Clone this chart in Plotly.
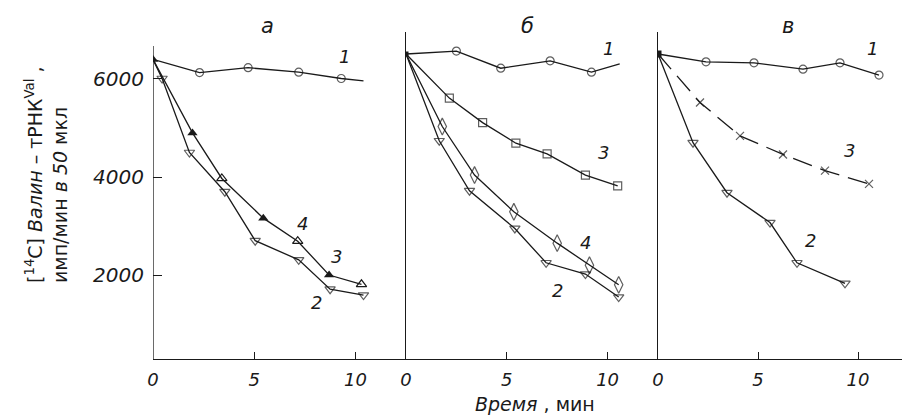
import plotly.graph_objects as go

# ---------------- data (time, min ; counts per min in 50 ul) ----------------
# panel а
t1a = [0, 2.3, 4.7, 7.2, 9.3, 10.4]
v1a = [6400, 6130, 6230, 6140, 6010, 5960]
t2a = [0, 0.45, 1.8, 3.55, 5.05, 7.2, 8.75, 10.4]
v2a = [6400, 6010, 4500, 3700, 2700, 2310, 1710, 1590]
t3a = [0, 1.95, 5.45, 8.7]
v3a = [6400, 4900, 3160, 2000]
t4a = [0, 3.4, 7.15, 10.3]
v4a = [6400, 3970, 2690, 1810]
# panel б
t1b = [0, 2.5, 4.7, 7.15, 9.2, 10.6]
v1b = [6510, 6570, 6220, 6370, 6140, 6310]
t2b = [0, 1.65, 3.15, 5.4, 6.95, 8.9, 10.55]
v2b = [6510, 4740, 3720, 2950, 2250, 2020, 1550]
t3b = [0, 2.15, 3.8, 5.45, 7.0, 8.9, 10.5]
v3b = [6510, 5610, 5110, 4690, 4470, 4040, 3820]
t4b = [0, 1.8, 3.4, 5.35, 7.5, 9.1, 10.55]
v4b = [6510, 5030, 4040, 3290, 2650, 2200, 1800]
# panel в
t1c = [0, 2.4, 4.8, 7.25, 9.1, 11.05]
v1c = [6510, 6350, 6330, 6200, 6330, 6080]
t2c = [0, 1.75, 3.45, 5.6, 6.95, 9.35]
v2c = [6510, 4700, 3680, 3070, 2250, 1830]
t3c = [0, 2.1, 4.1, 6.25, 8.35, 10.55]
v3c = [6510, 5520, 4840, 4460, 4130, 3860]

panel_titles = ["а", "б", "в"]
x_ticks = [0, 5, 10]
y_ticks = [2000, 4000, 6000]
x_range = [0, 12.5]
y_range = [286, 6959]

# ---------------- figure ----------------
# the page body has an 8px margin, so the figure is made 8px smaller
OFF = 8
W, H = 910 - OFF, 419 - OFF
ML, MR, MT, MB = 153 - OFF, 2, 32 - OFF, 60
PW = W - ML - MR
PH = H - MT - MB
PLOT_LEFT = ML + OFF        # screen px of plot-area left edge
PLOT_BOTTOM = H - MB + OFF  # screen px of plot-area bottom edge

def px2paper_x(px):
    return (px - PLOT_LEFT) / PW

def px2paper_y(py):
    return (PLOT_BOTTOM - py) / PH

FONT = "DejaVu Sans"
INK = "#1a1a1a"
LW = 1.3

fig = go.Figure()

def series(t, v, xa, ya, symbol, size, dash="solid", mark_last=True):
    sizes = [0] + [size] * (len(t) - 1)
    if not mark_last:
        sizes[-1] = 0
    fig.add_trace(go.Scatter(
        x=t, y=v, xaxis=xa, yaxis=ya, mode="lines+markers",
        line=dict(color=INK, width=LW, dash=dash),
        marker=dict(symbol=symbol, size=sizes, color=INK,
                    line=dict(color=INK, width=1.2)),
        showlegend=False, hoverinfo="skip"))

def start_point(t, v, xa, ya, symbol, size):
    fig.add_trace(go.Scatter(
        x=[t[0]], y=[v[0]], xaxis=xa, yaxis=ya, mode="markers",
        marker=dict(symbol=symbol, size=size, color=INK),
        showlegend=False, hoverinfo="skip"))

# panel а
series(t1a, v1a, "x", "y", "circle-open", 8, mark_last=False)
series(t2a, v2a, "x", "y", "triangle-down-open", 9)
# curves 3 and 4 run along one broken line
pts34 = sorted(zip(t3a + t4a[1:], v3a + v4a[1:]))
fig.add_trace(go.Scatter(
    x=[p[0] for p in pts34], y=[p[1] for p in pts34], xaxis="x", yaxis="y",
    mode="lines", line=dict(color=INK, width=LW),
    showlegend=False, hoverinfo="skip"))
fig.add_trace(go.Scatter(
    x=t3a[1:], y=v3a[1:], xaxis="x", yaxis="y", mode="markers",
    marker=dict(symbol="triangle-up", size=9, color=INK),
    showlegend=False, hoverinfo="skip"))
fig.add_trace(go.Scatter(
    x=t4a[1:], y=v4a[1:], xaxis="x", yaxis="y", mode="markers",
    marker=dict(symbol="triangle-up-open", size=9, color=INK,
                line=dict(color=INK, width=1.2)),
    showlegend=False, hoverinfo="skip"))
start_point(t3a, v3a, "x", "y", "triangle-up", 9)

# panel б
series(t1b, v1b, "x2", "y2", "circle-open", 8, mark_last=False)
series(t3b, v3b, "x2", "y2", "square-open", 8)
series(t4b, v4b, "x2", "y2", "diamond-tall-open", 12)
series(t2b, v2b, "x2", "y2", "triangle-down-open", 9)
start_point(t1b, v1b, "x2", "y2", "square", 5)

# panel в
series(t1c, v1c, "x3", "y3", "circle-open", 8)
series(t3c, v3c, "x3", "y3", "x-thin-open", 8, dash="20px,9px")
series(t2c, v2c, "x3", "y3", "triangle-down-open", 9)
start_point(t1c, v1c, "x3", "y3", "square", 7)

# ---------------- axes ----------------
d1 = px2paper_x(406)
d2 = px2paper_x(658)
domains = [[0, d1], [d1, d2], [d2, 1]]
xtickfont = dict(family=FONT, size=18, color=INK, style="italic")
ytickfont = dict(family=FONT, size=20, color=INK, style="italic")

for i, dom in enumerate(domains):
    sfx = "" if i == 0 else str(i + 1)
    fig.update_layout(**{
        "xaxis" + sfx: dict(
            domain=dom, range=x_range, showgrid=False, zeroline=False,
            showline=True, linecolor=INK, linewidth=1.3,
            ticks="inside", ticklen=7, tickwidth=1, tickcolor=INK,
            tickvals=x_ticks, ticktext=[str(v) for v in x_ticks],
            tickfont=xtickfont, ticklabelstandoff=4,
            anchor="y" + sfx),
        "yaxis" + sfx: dict(
            range=y_range, showgrid=False, zeroline=False,
            showline=(i > 0), linecolor=INK, linewidth=1.3,
            ticks="inside" if i == 0 else "", ticklen=9, tickwidth=1,
            tickcolor=INK,
            tickvals=y_ticks if i == 0 else [],
            showticklabels=(i == 0),
            tickfont=ytickfont, ticklabelstandoff=8,
            anchor="x" + sfx),
    })

shapes = [
    # y axis of panel а (shorter than the others)
    dict(type="line", xref="x", yref="y", x0=0, x1=0, y0=y_range[0], y1=6673,
         line=dict(color=INK, width=1.3)),
    # right frame line
    dict(type="line", xref="paper", yref="paper", x0=1, x1=1, y0=0, y1=1,
         line=dict(color=INK, width=1.3)),
]

ann = []
title_px = [267, 527, 788]
for ttl, px in zip(panel_titles, title_px):
    ann.append(dict(text=ttl, xref="paper", yref="paper",
                    x=px2paper_x(px), y=px2paper_y(26),
                    showarrow=False, xanchor="center", yanchor="middle",
                    font=dict(family=FONT, size=21, color=INK, style="italic")))

curve_labels = [
    ("1", "x", "y", 9.45, 6460), ("4", "x", "y", 7.4, 3060),
    ("3", "x", "y", 9.05, 2370), ("2", "x", "y", 8.1, 1430),
    ("1", "x2", "y2", 10.05, 6630), ("3", "x2", "y2", 9.8, 4510),
    ("4", "x2", "y2", 8.9, 2670), ("2", "x2", "y2", 7.5, 1690),
    ("1", "x3", "y3", 10.7, 6630), ("3", "x3", "y3", 9.55, 4550),
    ("2", "x3", "y3", 7.6, 2710),
]
for txt, xa, ya, xv, yv in curve_labels:
    ann.append(dict(text=txt, xref=xa, yref=ya, x=xv, y=yv, showarrow=False,
                    xanchor="center", yanchor="middle",
                    font=dict(family=FONT, size=18, color=INK, style="italic")))

ann.append(dict(text="<i>Время</i> , мин", xref="paper", yref="paper",
                x=px2paper_x(535), y=px2paper_y(404), showarrow=False,
                xanchor="center", yanchor="middle",
                font=dict(family=FONT, size=19, color=INK)))

ann.append(dict(
    text="[<sup>14</sup>C] <i>Валин</i> – тРНК<sup>Val</sup> ,<br>имп/мин <i>в 50</i> мкл",
    xref="paper", yref="paper", x=px2paper_x(46), y=px2paper_y(175),
    showarrow=False, textangle=-90, align="left",
    xanchor="center", yanchor="middle",
    font=dict(family=FONT, size=19, color=INK)))

fig.update_layout(
    width=W, height=H,
    margin=dict(l=ML, r=MR, t=MT, b=MB, autoexpand=False),
    paper_bgcolor="white", plot_bgcolor="white",
    shapes=shapes, annotations=ann, showlegend=False,
)

fig.write_html("out.html")
